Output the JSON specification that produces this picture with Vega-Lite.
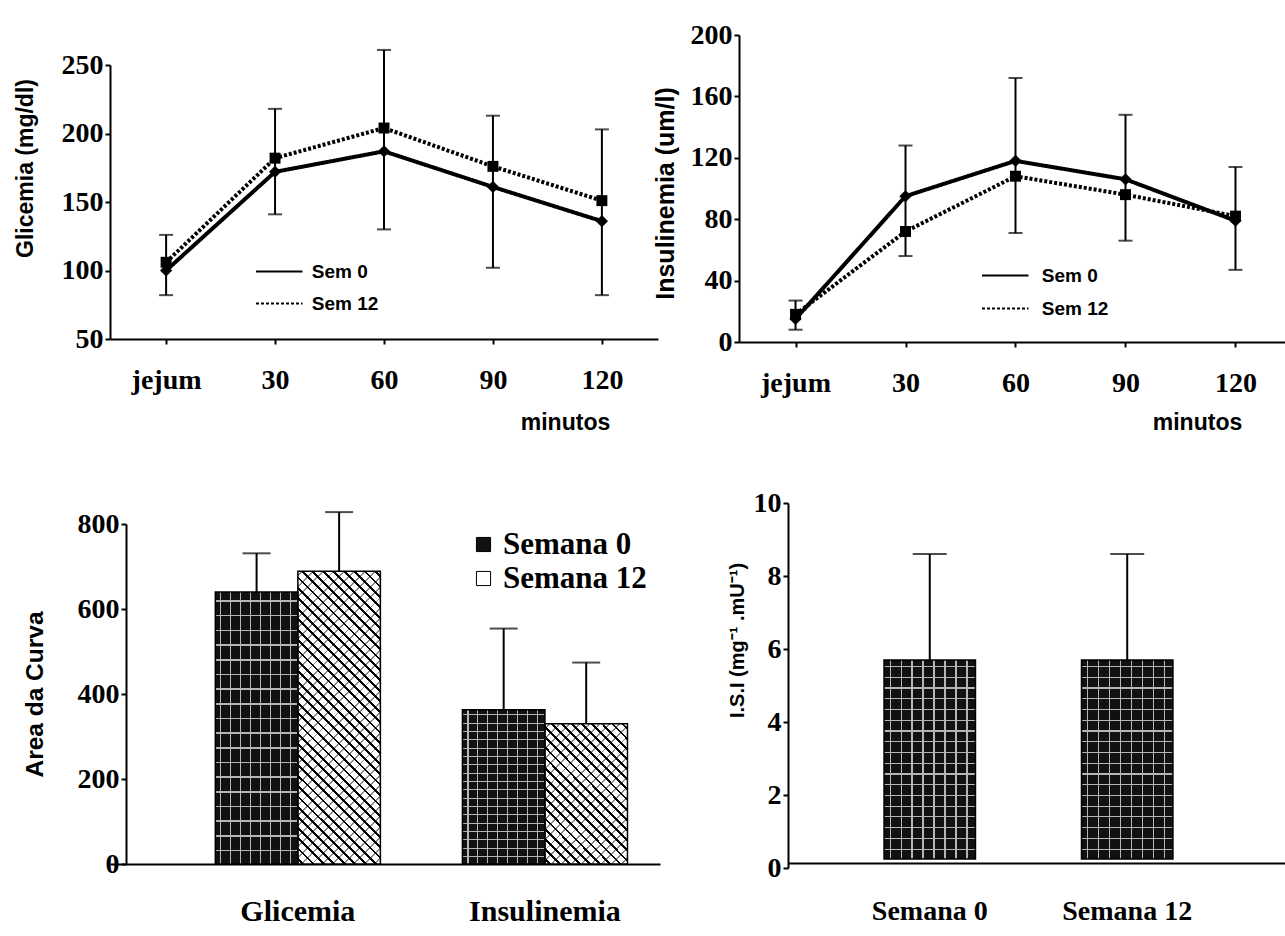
{
  "$schema": "https://vega.github.io/schema/vega-lite/v6.json",
  "background": "white",
  "padding": {"left": 14, "top": 21, "right": 0, "bottom": 0},
  "bounds": "flush",
  "spacing": 468,
  "resolve": {"scale": {"strokeDash": "independent", "fill": "independent"}, "legend": {"strokeDash": "independent", "fill": "independent"}},
  "config": {
    "view": {"stroke": null},
    "axis": {
      "grid": false,
      "domainColor": "black", "domainWidth": 2,
      "tickColor": "black", "tickWidth": 2, "tickSize": 5,
      "labelColor": "black", "labelFont": "Liberation Serif", "labelFontWeight": "bold", "labelFontSize": 28,
      "titleColor": "black", "titleFont": "Liberation Sans", "titleFontWeight": "bold", "titleFontSize": 22,
      "labelOverlap": false
    }
  },
  "datasets": {
    "glic": [
      {"tempo": "jejum", "semana": "Sem 0", "valor": 100},
      {"tempo": "30", "semana": "Sem 0", "valor": 172},
      {"tempo": "60", "semana": "Sem 0", "valor": 187},
      {"tempo": "90", "semana": "Sem 0", "valor": 161},
      {"tempo": "120", "semana": "Sem 0", "valor": 136},
      {"tempo": "jejum", "semana": "Sem 12", "valor": 106},
      {"tempo": "30", "semana": "Sem 12", "valor": 182},
      {"tempo": "60", "semana": "Sem 12", "valor": 204},
      {"tempo": "90", "semana": "Sem 12", "valor": 176},
      {"tempo": "120", "semana": "Sem 12", "valor": 151}
    ],
    "glic_err": [
      {"tempo": "jejum", "inf": 82, "sup": 126},
      {"tempo": "30", "inf": 141, "sup": 218},
      {"tempo": "60", "inf": 130, "sup": 261},
      {"tempo": "90", "inf": 102, "sup": 213},
      {"tempo": "120", "inf": 82, "sup": 203}
    ],
    "ins": [
      {"tempo": "jejum", "semana": "Sem 0", "valor": 15},
      {"tempo": "30", "semana": "Sem 0", "valor": 95},
      {"tempo": "60", "semana": "Sem 0", "valor": 118},
      {"tempo": "90", "semana": "Sem 0", "valor": 106},
      {"tempo": "120", "semana": "Sem 0", "valor": 79},
      {"tempo": "jejum", "semana": "Sem 12", "valor": 18},
      {"tempo": "30", "semana": "Sem 12", "valor": 72},
      {"tempo": "60", "semana": "Sem 12", "valor": 108},
      {"tempo": "90", "semana": "Sem 12", "valor": 96},
      {"tempo": "120", "semana": "Sem 12", "valor": 82}
    ],
    "ins_err": [
      {"tempo": "jejum", "inf": 8, "sup": 27},
      {"tempo": "30", "inf": 56, "sup": 128},
      {"tempo": "60", "inf": 71, "sup": 172},
      {"tempo": "90", "inf": 66, "sup": 148},
      {"tempo": "120", "inf": 47, "sup": 114}
    ],
    "auc": [
      {"variavel": "Glicemia", "semana": "Semana 0", "valor": 640, "sup": 731},
      {"variavel": "Glicemia", "semana": "Semana 12", "valor": 689, "sup": 828},
      {"variavel": "Insulinemia", "semana": "Semana 0", "valor": 363, "sup": 554},
      {"variavel": "Insulinemia", "semana": "Semana 12", "valor": 330, "sup": 474}
    ],
    "isi": [
      {"semana": "Semana 0", "valor": 5.7, "sup": 8.6},
      {"semana": "Semana 12", "valor": 5.7, "sup": 8.6}
    ]
  },
  "vconcat": [
    {
      "bounds": "flush",
      "spacing": 81,
      "resolve": {"scale": {"strokeDash": "independent"}, "legend": {"strokeDash": "independent"}},
      "hconcat": [
        {
          "width": 548,
          "height": 304,
          "encoding": {
            "x": {"field": "tempo", "type": "ordinal", "sort": ["jejum", "30", "60", "90", "120"],
              "scale": {"type": "point", "padding": 0.515},
              "axis": {"title": "minutos", "labelAngle": 0, "labelPadding": 22, "titleX": 455, "titleY": 72, "titleAlign": "center", "titleBaseline": "top", "titleFontSize": 23}}
          },
          "layer": [
            {
              "data": {"name": "glic_err"},
              "mark": {"type": "rule", "color": "black", "strokeWidth": 2},
              "encoding": {
                "y": {"field": "inf", "type": "quantitative", "scale": {"domain": [50, 250], "range": [304, 30], "nice": false, "zero": false},
                  "axis": {"title": "Glicemia (mg/dl)", "values": [50, 100, 150, 200, 250], "labelPadding": 2, "titlePadding": 24, "titleFontSize": 23, "titleY": 133}},
                "y2": {"field": "sup"}
              }
            },
            {
              "data": {"name": "glic_err"},
              "mark": {"type": "tick", "color": "black", "thickness": 2, "size": 14},
              "encoding": {"y": {"field": "inf", "type": "quantitative", "title": "Glicemia (mg/dl)"}}
            },
            {
              "data": {"name": "glic_err"},
              "mark": {"type": "tick", "color": "black", "thickness": 2, "size": 14},
              "encoding": {"y": {"field": "sup", "type": "quantitative", "title": "Glicemia (mg/dl)"}}
            },
            {
              "data": {"name": "glic"},
              "mark": {"type": "line", "color": "black", "strokeWidth": 4},
              "encoding": {
                "y": {"field": "valor", "type": "quantitative", "title": "Glicemia (mg/dl)"},
                "strokeDash": {"field": "semana", "type": "nominal",
                  "scale": {"domain": ["Sem 0", "Sem 12"], "range": [[1, 0], [3, 2]]},
                  "legend": {"title": null, "orient": "none", "legendX": 152.75, "legendY": 220, "symbolType": "M-1.5,0H1.5", "symbolSize": 960, "symbolStrokeWidth": 2, "symbolStrokeColor": "black", "labelFont": "Liberation Sans", "labelFontWeight": "bold", "labelFontSize": 19, "labelColor": "black", "labelOffset": 16, "rowPadding": 5}}
              }
            },
            {
              "data": {"name": "glic"},
              "transform": [{"filter": "datum.semana === 'Sem 0'"}],
              "mark": {"type": "point", "shape": "diamond", "filled": true, "color": "black", "opacity": 1, "size": 150},
              "encoding": {"y": {"field": "valor", "type": "quantitative", "title": "Glicemia (mg/dl)"}}
            },
            {
              "data": {"name": "glic"},
              "transform": [{"filter": "datum.semana === 'Sem 12'"}],
              "mark": {"type": "point", "shape": "square", "filled": true, "color": "black", "opacity": 1, "size": 120},
              "encoding": {"y": {"field": "valor", "type": "quantitative", "title": "Glicemia (mg/dl)"}}
            }
          ]
        },
        {
          "width": 546,
          "height": 307,
          "encoding": {
            "x": {"field": "tempo", "type": "ordinal", "sort": ["jejum", "30", "60", "90", "120"],
              "scale": {"type": "point", "padding": 0.482, "align": 0.533},
              "axis": {"title": "minutos", "labelAngle": 0, "labelPadding": 22, "titleX": 458, "titleY": 69, "titleAlign": "center", "titleBaseline": "top", "titleFontSize": 23}}
          },
          "layer": [
            {
              "data": {"name": "ins_err"},
              "mark": {"type": "rule", "color": "black", "strokeWidth": 2},
              "encoding": {
                "y": {"field": "inf", "type": "quantitative", "scale": {"domain": [0, 200], "nice": false},
                  "axis": {"title": "Insulinemia (um/l)", "values": [0, 40, 80, 120, 160, 200], "labelPadding": 2, "titlePadding": 12, "titleFontSize": 25, "titleY": 158}},
                "y2": {"field": "sup"}
              }
            },
            {
              "data": {"name": "ins_err"},
              "mark": {"type": "tick", "color": "black", "thickness": 2, "size": 14},
              "encoding": {"y": {"field": "inf", "type": "quantitative", "title": "Insulinemia (um/l)"}}
            },
            {
              "data": {"name": "ins_err"},
              "mark": {"type": "tick", "color": "black", "thickness": 2, "size": 14},
              "encoding": {"y": {"field": "sup", "type": "quantitative", "title": "Insulinemia (um/l)"}}
            },
            {
              "data": {"name": "ins"},
              "mark": {"type": "line", "color": "black", "strokeWidth": 4},
              "encoding": {
                "y": {"field": "valor", "type": "quantitative", "title": "Insulinemia (um/l)"},
                "strokeDash": {"field": "semana", "type": "nominal",
                  "scale": {"domain": ["Sem 0", "Sem 12"], "range": [[1, 0], [3, 2]]},
                  "legend": {"title": null, "orient": "none", "legendX": 249.75, "legendY": 224, "symbolType": "M-1.5,0H1.5", "symbolSize": 960, "symbolStrokeWidth": 2, "symbolStrokeColor": "black", "labelFont": "Liberation Sans", "labelFontWeight": "bold", "labelFontSize": 19, "labelColor": "black", "labelOffset": 20, "rowPadding": 6}}
              }
            },
            {
              "data": {"name": "ins"},
              "transform": [{"filter": "datum.semana === 'Sem 0'"}],
              "mark": {"type": "point", "shape": "diamond", "filled": true, "color": "black", "opacity": 1, "size": 150},
              "encoding": {"y": {"field": "valor", "type": "quantitative", "title": "Insulinemia (um/l)"}}
            },
            {
              "data": {"name": "ins"},
              "transform": [{"filter": "datum.semana === 'Sem 12'"}],
              "mark": {"type": "point", "shape": "square", "filled": true, "color": "black", "opacity": 1, "size": 120},
              "encoding": {"y": {"field": "valor", "type": "quantitative", "title": "Insulinemia (um/l)"}}
            }
          ]
        }
      ]
    },
    {
      "bounds": "flush",
      "spacing": 128,
      "resolve": {"scale": {"fill": "independent"}, "legend": {"fill": "independent"}},
      "hconcat": [
        {
          "width": 550,
          "height": 361,
          "data": {"name": "auc"},
          "encoding": {
            "x": {"field": "variavel", "type": "nominal", "sort": ["Glicemia", "Insulinemia"],
              "scale": {"type": "band", "paddingInner": 0.332, "paddingOuter": 0.279, "align": 0.764},
              "axis": {"title": null, "labelAngle": 0, "ticks": false, "labelPadding": 32, "labelFontSize": 30}},
            "xOffset": {"field": "semana", "type": "nominal", "sort": ["Semana 0", "Semana 12"], "scale": {"paddingInner": 0, "paddingOuter": 0}}
          },
          "layer": [
            {
              "mark": {"type": "bar"},
              "encoding": {
                "y": {"field": "valor", "type": "quantitative", "scale": {"domain": [0, 800], "range": [361, 21], "nice": false},
                  "axis": {"title": "Area da Curva", "values": [0, 200, 400, 600, 800], "offset": -16, "labelPadding": 2, "titlePadding": 30, "titleFontSize": 24.5}},
                "fill": {"field": "semana", "type": "nominal", "sort": ["Semana 0", "Semana 12"],
                  "scale": {"domain": ["Semana 0", "Semana 12"], "range": ["#111111", "#ffffff"]},
                  "legend": {"title": null, "orient": "none", "legendX": 358, "legendY": 26, "symbolType": "square", "symbolSize": 200, "symbolStrokeColor": "black", "symbolStrokeWidth": 1, "labelFont": "Liberation Serif", "labelFontWeight": "bold", "labelFontSize": 31, "labelColor": "black", "labelOffset": 4, "rowPadding": 2}}
              }
            },
            {
              "transform": [{"filter": "datum.semana === 'Semana 0'"}],
              "mark": {"type": "bar", "fill": {"gradient": "linear", "x1": 0, "y1": 0, "x2": 1, "y2": 0, "stops": [
                {"offset": 0.06, "color": "rgba(0,0,0,0)"}, {"offset": 0.06, "color": "#b5b5b5"}, {"offset": 0.074, "color": "#b5b5b5"}, {"offset": 0.074, "color": "rgba(0,0,0,0)"},
                {"offset": 0.18, "color": "rgba(0,0,0,0)"}, {"offset": 0.18, "color": "#b5b5b5"}, {"offset": 0.194, "color": "#b5b5b5"}, {"offset": 0.194, "color": "rgba(0,0,0,0)"},
                {"offset": 0.30, "color": "rgba(0,0,0,0)"}, {"offset": 0.30, "color": "#b5b5b5"}, {"offset": 0.314, "color": "#b5b5b5"}, {"offset": 0.314, "color": "rgba(0,0,0,0)"},
                {"offset": 0.42, "color": "rgba(0,0,0,0)"}, {"offset": 0.42, "color": "#b5b5b5"}, {"offset": 0.434, "color": "#b5b5b5"}, {"offset": 0.434, "color": "rgba(0,0,0,0)"},
                {"offset": 0.54, "color": "rgba(0,0,0,0)"}, {"offset": 0.54, "color": "#b5b5b5"}, {"offset": 0.554, "color": "#b5b5b5"}, {"offset": 0.554, "color": "rgba(0,0,0,0)"},
                {"offset": 0.66, "color": "rgba(0,0,0,0)"}, {"offset": 0.66, "color": "#b5b5b5"}, {"offset": 0.674, "color": "#b5b5b5"}, {"offset": 0.674, "color": "rgba(0,0,0,0)"},
                {"offset": 0.78, "color": "rgba(0,0,0,0)"}, {"offset": 0.78, "color": "#b5b5b5"}, {"offset": 0.794, "color": "#b5b5b5"}, {"offset": 0.794, "color": "rgba(0,0,0,0)"},
                {"offset": 0.90, "color": "rgba(0,0,0,0)"}, {"offset": 0.90, "color": "#b5b5b5"}, {"offset": 0.914, "color": "#b5b5b5"}, {"offset": 0.914, "color": "rgba(0,0,0,0)"}
              ]}},
              "encoding": {"y": {"field": "valor", "type": "quantitative", "title": "Area da Curva"}}
            },
            {
              "transform": [{"filter": "datum.semana === 'Semana 0'"}],
              "mark": {"type": "bar", "fill": {"gradient": "linear", "x1": 0, "y1": 0, "x2": 0, "y2": 1, "stops": [
                {"offset": 0.030, "color": "rgba(0,0,0,0)"}, {"offset": 0.030, "color": "#b5b5b5"}, {"offset": 0.036, "color": "#b5b5b5"}, {"offset": 0.036, "color": "rgba(0,0,0,0)"},
                {"offset": 0.084, "color": "rgba(0,0,0,0)"}, {"offset": 0.084, "color": "#b5b5b5"}, {"offset": 0.090, "color": "#b5b5b5"}, {"offset": 0.090, "color": "rgba(0,0,0,0)"},
                {"offset": 0.138, "color": "rgba(0,0,0,0)"}, {"offset": 0.138, "color": "#b5b5b5"}, {"offset": 0.144, "color": "#b5b5b5"}, {"offset": 0.144, "color": "rgba(0,0,0,0)"},
                {"offset": 0.192, "color": "rgba(0,0,0,0)"}, {"offset": 0.192, "color": "#b5b5b5"}, {"offset": 0.198, "color": "#b5b5b5"}, {"offset": 0.198, "color": "rgba(0,0,0,0)"},
                {"offset": 0.246, "color": "rgba(0,0,0,0)"}, {"offset": 0.246, "color": "#b5b5b5"}, {"offset": 0.252, "color": "#b5b5b5"}, {"offset": 0.252, "color": "rgba(0,0,0,0)"},
                {"offset": 0.300, "color": "rgba(0,0,0,0)"}, {"offset": 0.300, "color": "#b5b5b5"}, {"offset": 0.306, "color": "#b5b5b5"}, {"offset": 0.306, "color": "rgba(0,0,0,0)"},
                {"offset": 0.354, "color": "rgba(0,0,0,0)"}, {"offset": 0.354, "color": "#b5b5b5"}, {"offset": 0.360, "color": "#b5b5b5"}, {"offset": 0.360, "color": "rgba(0,0,0,0)"},
                {"offset": 0.408, "color": "rgba(0,0,0,0)"}, {"offset": 0.408, "color": "#b5b5b5"}, {"offset": 0.414, "color": "#b5b5b5"}, {"offset": 0.414, "color": "rgba(0,0,0,0)"},
                {"offset": 0.462, "color": "rgba(0,0,0,0)"}, {"offset": 0.462, "color": "#b5b5b5"}, {"offset": 0.468, "color": "#b5b5b5"}, {"offset": 0.468, "color": "rgba(0,0,0,0)"},
                {"offset": 0.516, "color": "rgba(0,0,0,0)"}, {"offset": 0.516, "color": "#b5b5b5"}, {"offset": 0.522, "color": "#b5b5b5"}, {"offset": 0.522, "color": "rgba(0,0,0,0)"},
                {"offset": 0.570, "color": "rgba(0,0,0,0)"}, {"offset": 0.570, "color": "#b5b5b5"}, {"offset": 0.576, "color": "#b5b5b5"}, {"offset": 0.576, "color": "rgba(0,0,0,0)"},
                {"offset": 0.624, "color": "rgba(0,0,0,0)"}, {"offset": 0.624, "color": "#b5b5b5"}, {"offset": 0.630, "color": "#b5b5b5"}, {"offset": 0.630, "color": "rgba(0,0,0,0)"},
                {"offset": 0.678, "color": "rgba(0,0,0,0)"}, {"offset": 0.678, "color": "#b5b5b5"}, {"offset": 0.684, "color": "#b5b5b5"}, {"offset": 0.684, "color": "rgba(0,0,0,0)"},
                {"offset": 0.732, "color": "rgba(0,0,0,0)"}, {"offset": 0.732, "color": "#b5b5b5"}, {"offset": 0.738, "color": "#b5b5b5"}, {"offset": 0.738, "color": "rgba(0,0,0,0)"},
                {"offset": 0.786, "color": "rgba(0,0,0,0)"}, {"offset": 0.786, "color": "#b5b5b5"}, {"offset": 0.792, "color": "#b5b5b5"}, {"offset": 0.792, "color": "rgba(0,0,0,0)"},
                {"offset": 0.840, "color": "rgba(0,0,0,0)"}, {"offset": 0.840, "color": "#b5b5b5"}, {"offset": 0.846, "color": "#b5b5b5"}, {"offset": 0.846, "color": "rgba(0,0,0,0)"},
                {"offset": 0.894, "color": "rgba(0,0,0,0)"}, {"offset": 0.894, "color": "#b5b5b5"}, {"offset": 0.900, "color": "#b5b5b5"}, {"offset": 0.900, "color": "rgba(0,0,0,0)"},
                {"offset": 0.948, "color": "rgba(0,0,0,0)"}, {"offset": 0.948, "color": "#b5b5b5"}, {"offset": 0.954, "color": "#b5b5b5"}, {"offset": 0.954, "color": "rgba(0,0,0,0)"}
              ]}},
              "encoding": {"y": {"field": "valor", "type": "quantitative", "title": "Area da Curva"}}
            },
            {
              "transform": [{"filter": "datum.semana === 'Semana 12' && datum.variavel === 'Glicemia'"}],
              "mark": {"type": "bar", "fill": {"gradient": "linear", "x1": 0, "y1": 0, "x2": 0.3344, "y2": 1.1874, "stops": [
                {"offset": 0.0100, "color": "rgba(0,0,0,0)"}, {"offset": 0.0100, "color": "#888"}, {"offset": 0.0150, "color": "#888"}, {"offset": 0.0150, "color": "rgba(0,0,0,0)"},
                {"offset": 0.0378, "color": "rgba(0,0,0,0)"}, {"offset": 0.0378, "color": "#888"}, {"offset": 0.0428, "color": "#888"}, {"offset": 0.0428, "color": "rgba(0,0,0,0)"},
                {"offset": 0.0656, "color": "rgba(0,0,0,0)"}, {"offset": 0.0656, "color": "#888"}, {"offset": 0.0706, "color": "#888"}, {"offset": 0.0706, "color": "rgba(0,0,0,0)"},
                {"offset": 0.0933, "color": "rgba(0,0,0,0)"}, {"offset": 0.0933, "color": "#888"}, {"offset": 0.0983, "color": "#888"}, {"offset": 0.0983, "color": "rgba(0,0,0,0)"},
                {"offset": 0.1211, "color": "rgba(0,0,0,0)"}, {"offset": 0.1211, "color": "#888"}, {"offset": 0.1261, "color": "#888"}, {"offset": 0.1261, "color": "rgba(0,0,0,0)"},
                {"offset": 0.1489, "color": "rgba(0,0,0,0)"}, {"offset": 0.1489, "color": "#888"}, {"offset": 0.1539, "color": "#888"}, {"offset": 0.1539, "color": "rgba(0,0,0,0)"},
                {"offset": 0.1767, "color": "rgba(0,0,0,0)"}, {"offset": 0.1767, "color": "#888"}, {"offset": 0.1817, "color": "#888"}, {"offset": 0.1817, "color": "rgba(0,0,0,0)"},
                {"offset": 0.2044, "color": "rgba(0,0,0,0)"}, {"offset": 0.2044, "color": "#888"}, {"offset": 0.2094, "color": "#888"}, {"offset": 0.2094, "color": "rgba(0,0,0,0)"},
                {"offset": 0.2322, "color": "rgba(0,0,0,0)"}, {"offset": 0.2322, "color": "#888"}, {"offset": 0.2372, "color": "#888"}, {"offset": 0.2372, "color": "rgba(0,0,0,0)"},
                {"offset": 0.2600, "color": "rgba(0,0,0,0)"}, {"offset": 0.2600, "color": "#888"}, {"offset": 0.2650, "color": "#888"}, {"offset": 0.2650, "color": "rgba(0,0,0,0)"},
                {"offset": 0.2878, "color": "rgba(0,0,0,0)"}, {"offset": 0.2878, "color": "#888"}, {"offset": 0.2928, "color": "#888"}, {"offset": 0.2928, "color": "rgba(0,0,0,0)"},
                {"offset": 0.3156, "color": "rgba(0,0,0,0)"}, {"offset": 0.3156, "color": "#888"}, {"offset": 0.3206, "color": "#888"}, {"offset": 0.3206, "color": "rgba(0,0,0,0)"},
                {"offset": 0.3433, "color": "rgba(0,0,0,0)"}, {"offset": 0.3433, "color": "#888"}, {"offset": 0.3483, "color": "#888"}, {"offset": 0.3483, "color": "rgba(0,0,0,0)"},
                {"offset": 0.3711, "color": "rgba(0,0,0,0)"}, {"offset": 0.3711, "color": "#888"}, {"offset": 0.3761, "color": "#888"}, {"offset": 0.3761, "color": "rgba(0,0,0,0)"},
                {"offset": 0.3989, "color": "rgba(0,0,0,0)"}, {"offset": 0.3989, "color": "#888"}, {"offset": 0.4039, "color": "#888"}, {"offset": 0.4039, "color": "rgba(0,0,0,0)"},
                {"offset": 0.4267, "color": "rgba(0,0,0,0)"}, {"offset": 0.4267, "color": "#888"}, {"offset": 0.4317, "color": "#888"}, {"offset": 0.4317, "color": "rgba(0,0,0,0)"},
                {"offset": 0.4544, "color": "rgba(0,0,0,0)"}, {"offset": 0.4544, "color": "#888"}, {"offset": 0.4594, "color": "#888"}, {"offset": 0.4594, "color": "rgba(0,0,0,0)"},
                {"offset": 0.4822, "color": "rgba(0,0,0,0)"}, {"offset": 0.4822, "color": "#888"}, {"offset": 0.4872, "color": "#888"}, {"offset": 0.4872, "color": "rgba(0,0,0,0)"},
                {"offset": 0.5100, "color": "rgba(0,0,0,0)"}, {"offset": 0.5100, "color": "#888"}, {"offset": 0.5150, "color": "#888"}, {"offset": 0.5150, "color": "rgba(0,0,0,0)"},
                {"offset": 0.5378, "color": "rgba(0,0,0,0)"}, {"offset": 0.5378, "color": "#888"}, {"offset": 0.5428, "color": "#888"}, {"offset": 0.5428, "color": "rgba(0,0,0,0)"},
                {"offset": 0.5656, "color": "rgba(0,0,0,0)"}, {"offset": 0.5656, "color": "#888"}, {"offset": 0.5706, "color": "#888"}, {"offset": 0.5706, "color": "rgba(0,0,0,0)"},
                {"offset": 0.5933, "color": "rgba(0,0,0,0)"}, {"offset": 0.5933, "color": "#888"}, {"offset": 0.5983, "color": "#888"}, {"offset": 0.5983, "color": "rgba(0,0,0,0)"},
                {"offset": 0.6211, "color": "rgba(0,0,0,0)"}, {"offset": 0.6211, "color": "#888"}, {"offset": 0.6261, "color": "#888"}, {"offset": 0.6261, "color": "rgba(0,0,0,0)"},
                {"offset": 0.6489, "color": "rgba(0,0,0,0)"}, {"offset": 0.6489, "color": "#888"}, {"offset": 0.6539, "color": "#888"}, {"offset": 0.6539, "color": "rgba(0,0,0,0)"},
                {"offset": 0.6767, "color": "rgba(0,0,0,0)"}, {"offset": 0.6767, "color": "#888"}, {"offset": 0.6817, "color": "#888"}, {"offset": 0.6817, "color": "rgba(0,0,0,0)"},
                {"offset": 0.7044, "color": "rgba(0,0,0,0)"}, {"offset": 0.7044, "color": "#888"}, {"offset": 0.7094, "color": "#888"}, {"offset": 0.7094, "color": "rgba(0,0,0,0)"},
                {"offset": 0.7322, "color": "rgba(0,0,0,0)"}, {"offset": 0.7322, "color": "#888"}, {"offset": 0.7372, "color": "#888"}, {"offset": 0.7372, "color": "rgba(0,0,0,0)"},
                {"offset": 0.7600, "color": "rgba(0,0,0,0)"}, {"offset": 0.7600, "color": "#888"}, {"offset": 0.7650, "color": "#888"}, {"offset": 0.7650, "color": "rgba(0,0,0,0)"},
                {"offset": 0.7878, "color": "rgba(0,0,0,0)"}, {"offset": 0.7878, "color": "#888"}, {"offset": 0.7928, "color": "#888"}, {"offset": 0.7928, "color": "rgba(0,0,0,0)"},
                {"offset": 0.8156, "color": "rgba(0,0,0,0)"}, {"offset": 0.8156, "color": "#888"}, {"offset": 0.8206, "color": "#888"}, {"offset": 0.8206, "color": "rgba(0,0,0,0)"},
                {"offset": 0.8433, "color": "rgba(0,0,0,0)"}, {"offset": 0.8433, "color": "#888"}, {"offset": 0.8483, "color": "#888"}, {"offset": 0.8483, "color": "rgba(0,0,0,0)"},
                {"offset": 0.8711, "color": "rgba(0,0,0,0)"}, {"offset": 0.8711, "color": "#888"}, {"offset": 0.8761, "color": "#888"}, {"offset": 0.8761, "color": "rgba(0,0,0,0)"},
                {"offset": 0.8989, "color": "rgba(0,0,0,0)"}, {"offset": 0.8989, "color": "#888"}, {"offset": 0.9039, "color": "#888"}, {"offset": 0.9039, "color": "rgba(0,0,0,0)"},
                {"offset": 0.9267, "color": "rgba(0,0,0,0)"}, {"offset": 0.9267, "color": "#888"}, {"offset": 0.9317, "color": "#888"}, {"offset": 0.9317, "color": "rgba(0,0,0,0)"},
                {"offset": 0.9544, "color": "rgba(0,0,0,0)"}, {"offset": 0.9544, "color": "#888"}, {"offset": 0.9594, "color": "#888"}, {"offset": 0.9594, "color": "rgba(0,0,0,0)"},
                {"offset": 0.9822, "color": "rgba(0,0,0,0)"}, {"offset": 0.9822, "color": "#888"}, {"offset": 0.9872, "color": "#888"}, {"offset": 0.9872, "color": "rgba(0,0,0,0)"}
              ]}},
              "encoding": {"y": {"field": "valor", "type": "quantitative", "title": "Area da Curva"}}
            },
            {
              "transform": [{"filter": "datum.semana === 'Semana 12' && datum.variavel === 'Glicemia'"}],
              "mark": {"type": "bar", "fill": {"gradient": "linear", "x1": 0, "y1": 1, "x2": 0.3344, "y2": -0.1874, "stops": [
                {"offset": 0.0100, "color": "rgba(0,0,0,0)"}, {"offset": 0.0100, "color": "#000"}, {"offset": 0.0175, "color": "#000"}, {"offset": 0.0175, "color": "rgba(0,0,0,0)"},
                {"offset": 0.0378, "color": "rgba(0,0,0,0)"}, {"offset": 0.0378, "color": "#000"}, {"offset": 0.0453, "color": "#000"}, {"offset": 0.0453, "color": "rgba(0,0,0,0)"},
                {"offset": 0.0656, "color": "rgba(0,0,0,0)"}, {"offset": 0.0656, "color": "#000"}, {"offset": 0.0731, "color": "#000"}, {"offset": 0.0731, "color": "rgba(0,0,0,0)"},
                {"offset": 0.0933, "color": "rgba(0,0,0,0)"}, {"offset": 0.0933, "color": "#000"}, {"offset": 0.1008, "color": "#000"}, {"offset": 0.1008, "color": "rgba(0,0,0,0)"},
                {"offset": 0.1211, "color": "rgba(0,0,0,0)"}, {"offset": 0.1211, "color": "#000"}, {"offset": 0.1286, "color": "#000"}, {"offset": 0.1286, "color": "rgba(0,0,0,0)"},
                {"offset": 0.1489, "color": "rgba(0,0,0,0)"}, {"offset": 0.1489, "color": "#000"}, {"offset": 0.1564, "color": "#000"}, {"offset": 0.1564, "color": "rgba(0,0,0,0)"},
                {"offset": 0.1767, "color": "rgba(0,0,0,0)"}, {"offset": 0.1767, "color": "#000"}, {"offset": 0.1842, "color": "#000"}, {"offset": 0.1842, "color": "rgba(0,0,0,0)"},
                {"offset": 0.2044, "color": "rgba(0,0,0,0)"}, {"offset": 0.2044, "color": "#000"}, {"offset": 0.2119, "color": "#000"}, {"offset": 0.2119, "color": "rgba(0,0,0,0)"},
                {"offset": 0.2322, "color": "rgba(0,0,0,0)"}, {"offset": 0.2322, "color": "#000"}, {"offset": 0.2397, "color": "#000"}, {"offset": 0.2397, "color": "rgba(0,0,0,0)"},
                {"offset": 0.2600, "color": "rgba(0,0,0,0)"}, {"offset": 0.2600, "color": "#000"}, {"offset": 0.2675, "color": "#000"}, {"offset": 0.2675, "color": "rgba(0,0,0,0)"},
                {"offset": 0.2878, "color": "rgba(0,0,0,0)"}, {"offset": 0.2878, "color": "#000"}, {"offset": 0.2953, "color": "#000"}, {"offset": 0.2953, "color": "rgba(0,0,0,0)"},
                {"offset": 0.3156, "color": "rgba(0,0,0,0)"}, {"offset": 0.3156, "color": "#000"}, {"offset": 0.3231, "color": "#000"}, {"offset": 0.3231, "color": "rgba(0,0,0,0)"},
                {"offset": 0.3433, "color": "rgba(0,0,0,0)"}, {"offset": 0.3433, "color": "#000"}, {"offset": 0.3508, "color": "#000"}, {"offset": 0.3508, "color": "rgba(0,0,0,0)"},
                {"offset": 0.3711, "color": "rgba(0,0,0,0)"}, {"offset": 0.3711, "color": "#000"}, {"offset": 0.3786, "color": "#000"}, {"offset": 0.3786, "color": "rgba(0,0,0,0)"},
                {"offset": 0.3989, "color": "rgba(0,0,0,0)"}, {"offset": 0.3989, "color": "#000"}, {"offset": 0.4064, "color": "#000"}, {"offset": 0.4064, "color": "rgba(0,0,0,0)"},
                {"offset": 0.4267, "color": "rgba(0,0,0,0)"}, {"offset": 0.4267, "color": "#000"}, {"offset": 0.4342, "color": "#000"}, {"offset": 0.4342, "color": "rgba(0,0,0,0)"},
                {"offset": 0.4544, "color": "rgba(0,0,0,0)"}, {"offset": 0.4544, "color": "#000"}, {"offset": 0.4619, "color": "#000"}, {"offset": 0.4619, "color": "rgba(0,0,0,0)"},
                {"offset": 0.4822, "color": "rgba(0,0,0,0)"}, {"offset": 0.4822, "color": "#000"}, {"offset": 0.4897, "color": "#000"}, {"offset": 0.4897, "color": "rgba(0,0,0,0)"},
                {"offset": 0.5100, "color": "rgba(0,0,0,0)"}, {"offset": 0.5100, "color": "#000"}, {"offset": 0.5175, "color": "#000"}, {"offset": 0.5175, "color": "rgba(0,0,0,0)"},
                {"offset": 0.5378, "color": "rgba(0,0,0,0)"}, {"offset": 0.5378, "color": "#000"}, {"offset": 0.5453, "color": "#000"}, {"offset": 0.5453, "color": "rgba(0,0,0,0)"},
                {"offset": 0.5656, "color": "rgba(0,0,0,0)"}, {"offset": 0.5656, "color": "#000"}, {"offset": 0.5731, "color": "#000"}, {"offset": 0.5731, "color": "rgba(0,0,0,0)"},
                {"offset": 0.5933, "color": "rgba(0,0,0,0)"}, {"offset": 0.5933, "color": "#000"}, {"offset": 0.6008, "color": "#000"}, {"offset": 0.6008, "color": "rgba(0,0,0,0)"},
                {"offset": 0.6211, "color": "rgba(0,0,0,0)"}, {"offset": 0.6211, "color": "#000"}, {"offset": 0.6286, "color": "#000"}, {"offset": 0.6286, "color": "rgba(0,0,0,0)"},
                {"offset": 0.6489, "color": "rgba(0,0,0,0)"}, {"offset": 0.6489, "color": "#000"}, {"offset": 0.6564, "color": "#000"}, {"offset": 0.6564, "color": "rgba(0,0,0,0)"},
                {"offset": 0.6767, "color": "rgba(0,0,0,0)"}, {"offset": 0.6767, "color": "#000"}, {"offset": 0.6842, "color": "#000"}, {"offset": 0.6842, "color": "rgba(0,0,0,0)"},
                {"offset": 0.7044, "color": "rgba(0,0,0,0)"}, {"offset": 0.7044, "color": "#000"}, {"offset": 0.7119, "color": "#000"}, {"offset": 0.7119, "color": "rgba(0,0,0,0)"},
                {"offset": 0.7322, "color": "rgba(0,0,0,0)"}, {"offset": 0.7322, "color": "#000"}, {"offset": 0.7397, "color": "#000"}, {"offset": 0.7397, "color": "rgba(0,0,0,0)"},
                {"offset": 0.7600, "color": "rgba(0,0,0,0)"}, {"offset": 0.7600, "color": "#000"}, {"offset": 0.7675, "color": "#000"}, {"offset": 0.7675, "color": "rgba(0,0,0,0)"},
                {"offset": 0.7878, "color": "rgba(0,0,0,0)"}, {"offset": 0.7878, "color": "#000"}, {"offset": 0.7953, "color": "#000"}, {"offset": 0.7953, "color": "rgba(0,0,0,0)"},
                {"offset": 0.8156, "color": "rgba(0,0,0,0)"}, {"offset": 0.8156, "color": "#000"}, {"offset": 0.8231, "color": "#000"}, {"offset": 0.8231, "color": "rgba(0,0,0,0)"},
                {"offset": 0.8433, "color": "rgba(0,0,0,0)"}, {"offset": 0.8433, "color": "#000"}, {"offset": 0.8508, "color": "#000"}, {"offset": 0.8508, "color": "rgba(0,0,0,0)"},
                {"offset": 0.8711, "color": "rgba(0,0,0,0)"}, {"offset": 0.8711, "color": "#000"}, {"offset": 0.8786, "color": "#000"}, {"offset": 0.8786, "color": "rgba(0,0,0,0)"},
                {"offset": 0.8989, "color": "rgba(0,0,0,0)"}, {"offset": 0.8989, "color": "#000"}, {"offset": 0.9064, "color": "#000"}, {"offset": 0.9064, "color": "rgba(0,0,0,0)"},
                {"offset": 0.9267, "color": "rgba(0,0,0,0)"}, {"offset": 0.9267, "color": "#000"}, {"offset": 0.9342, "color": "#000"}, {"offset": 0.9342, "color": "rgba(0,0,0,0)"},
                {"offset": 0.9544, "color": "rgba(0,0,0,0)"}, {"offset": 0.9544, "color": "#000"}, {"offset": 0.9619, "color": "#000"}, {"offset": 0.9619, "color": "rgba(0,0,0,0)"},
                {"offset": 0.9822, "color": "rgba(0,0,0,0)"}, {"offset": 0.9822, "color": "#000"}, {"offset": 0.9897, "color": "#000"}, {"offset": 0.9897, "color": "rgba(0,0,0,0)"}
              ]}},
              "encoding": {"y": {"field": "valor", "type": "quantitative", "title": "Area da Curva"}}
            },
            {
              "transform": [{"filter": "datum.semana === 'Semana 12' && datum.variavel === 'Insulinemia'"}],
              "mark": {"type": "bar", "fill": {"gradient": "linear", "x1": 0, "y1": 0, "x2": 0.6988, "y2": 1.1786, "stops": [
                {"offset": 0.0160, "color": "rgba(0,0,0,0)"}, {"offset": 0.0160, "color": "#888"}, {"offset": 0.0244, "color": "#888"}, {"offset": 0.0244, "color": "rgba(0,0,0,0)"},
                {"offset": 0.0615, "color": "rgba(0,0,0,0)"}, {"offset": 0.0615, "color": "#888"}, {"offset": 0.0699, "color": "#888"}, {"offset": 0.0699, "color": "rgba(0,0,0,0)"},
                {"offset": 0.1069, "color": "rgba(0,0,0,0)"}, {"offset": 0.1069, "color": "#888"}, {"offset": 0.1153, "color": "#888"}, {"offset": 0.1153, "color": "rgba(0,0,0,0)"},
                {"offset": 0.1524, "color": "rgba(0,0,0,0)"}, {"offset": 0.1524, "color": "#888"}, {"offset": 0.1608, "color": "#888"}, {"offset": 0.1608, "color": "rgba(0,0,0,0)"},
                {"offset": 0.1978, "color": "rgba(0,0,0,0)"}, {"offset": 0.1978, "color": "#888"}, {"offset": 0.2062, "color": "#888"}, {"offset": 0.2062, "color": "rgba(0,0,0,0)"},
                {"offset": 0.2433, "color": "rgba(0,0,0,0)"}, {"offset": 0.2433, "color": "#888"}, {"offset": 0.2517, "color": "#888"}, {"offset": 0.2517, "color": "rgba(0,0,0,0)"},
                {"offset": 0.2887, "color": "rgba(0,0,0,0)"}, {"offset": 0.2887, "color": "#888"}, {"offset": 0.2971, "color": "#888"}, {"offset": 0.2971, "color": "rgba(0,0,0,0)"},
                {"offset": 0.3342, "color": "rgba(0,0,0,0)"}, {"offset": 0.3342, "color": "#888"}, {"offset": 0.3426, "color": "#888"}, {"offset": 0.3426, "color": "rgba(0,0,0,0)"},
                {"offset": 0.3796, "color": "rgba(0,0,0,0)"}, {"offset": 0.3796, "color": "#888"}, {"offset": 0.3880, "color": "#888"}, {"offset": 0.3880, "color": "rgba(0,0,0,0)"},
                {"offset": 0.4251, "color": "rgba(0,0,0,0)"}, {"offset": 0.4251, "color": "#888"}, {"offset": 0.4335, "color": "#888"}, {"offset": 0.4335, "color": "rgba(0,0,0,0)"},
                {"offset": 0.4705, "color": "rgba(0,0,0,0)"}, {"offset": 0.4705, "color": "#888"}, {"offset": 0.4789, "color": "#888"}, {"offset": 0.4789, "color": "rgba(0,0,0,0)"},
                {"offset": 0.5160, "color": "rgba(0,0,0,0)"}, {"offset": 0.5160, "color": "#888"}, {"offset": 0.5244, "color": "#888"}, {"offset": 0.5244, "color": "rgba(0,0,0,0)"},
                {"offset": 0.5614, "color": "rgba(0,0,0,0)"}, {"offset": 0.5614, "color": "#888"}, {"offset": 0.5698, "color": "#888"}, {"offset": 0.5698, "color": "rgba(0,0,0,0)"},
                {"offset": 0.6069, "color": "rgba(0,0,0,0)"}, {"offset": 0.6069, "color": "#888"}, {"offset": 0.6153, "color": "#888"}, {"offset": 0.6153, "color": "rgba(0,0,0,0)"},
                {"offset": 0.6524, "color": "rgba(0,0,0,0)"}, {"offset": 0.6524, "color": "#888"}, {"offset": 0.6608, "color": "#888"}, {"offset": 0.6608, "color": "rgba(0,0,0,0)"},
                {"offset": 0.6978, "color": "rgba(0,0,0,0)"}, {"offset": 0.6978, "color": "#888"}, {"offset": 0.7062, "color": "#888"}, {"offset": 0.7062, "color": "rgba(0,0,0,0)"},
                {"offset": 0.7433, "color": "rgba(0,0,0,0)"}, {"offset": 0.7433, "color": "#888"}, {"offset": 0.7517, "color": "#888"}, {"offset": 0.7517, "color": "rgba(0,0,0,0)"},
                {"offset": 0.7887, "color": "rgba(0,0,0,0)"}, {"offset": 0.7887, "color": "#888"}, {"offset": 0.7971, "color": "#888"}, {"offset": 0.7971, "color": "rgba(0,0,0,0)"},
                {"offset": 0.8342, "color": "rgba(0,0,0,0)"}, {"offset": 0.8342, "color": "#888"}, {"offset": 0.8426, "color": "#888"}, {"offset": 0.8426, "color": "rgba(0,0,0,0)"},
                {"offset": 0.8796, "color": "rgba(0,0,0,0)"}, {"offset": 0.8796, "color": "#888"}, {"offset": 0.8880, "color": "#888"}, {"offset": 0.8880, "color": "rgba(0,0,0,0)"},
                {"offset": 0.9251, "color": "rgba(0,0,0,0)"}, {"offset": 0.9251, "color": "#888"}, {"offset": 0.9335, "color": "#888"}, {"offset": 0.9335, "color": "rgba(0,0,0,0)"},
                {"offset": 0.9705, "color": "rgba(0,0,0,0)"}, {"offset": 0.9705, "color": "#888"}, {"offset": 0.9789, "color": "#888"}, {"offset": 0.9789, "color": "rgba(0,0,0,0)"}
              ]}},
              "encoding": {"y": {"field": "valor", "type": "quantitative", "title": "Area da Curva"}}
            },
            {
              "transform": [{"filter": "datum.semana === 'Semana 12' && datum.variavel === 'Insulinemia'"}],
              "mark": {"type": "bar", "fill": {"gradient": "linear", "x1": 0, "y1": 1, "x2": 0.6988, "y2": -0.1786, "stops": [
                {"offset": 0.0160, "color": "rgba(0,0,0,0)"}, {"offset": 0.0160, "color": "#000"}, {"offset": 0.0286, "color": "#000"}, {"offset": 0.0286, "color": "rgba(0,0,0,0)"},
                {"offset": 0.0615, "color": "rgba(0,0,0,0)"}, {"offset": 0.0615, "color": "#000"}, {"offset": 0.0741, "color": "#000"}, {"offset": 0.0741, "color": "rgba(0,0,0,0)"},
                {"offset": 0.1069, "color": "rgba(0,0,0,0)"}, {"offset": 0.1069, "color": "#000"}, {"offset": 0.1195, "color": "#000"}, {"offset": 0.1195, "color": "rgba(0,0,0,0)"},
                {"offset": 0.1524, "color": "rgba(0,0,0,0)"}, {"offset": 0.1524, "color": "#000"}, {"offset": 0.1650, "color": "#000"}, {"offset": 0.1650, "color": "rgba(0,0,0,0)"},
                {"offset": 0.1978, "color": "rgba(0,0,0,0)"}, {"offset": 0.1978, "color": "#000"}, {"offset": 0.2104, "color": "#000"}, {"offset": 0.2104, "color": "rgba(0,0,0,0)"},
                {"offset": 0.2433, "color": "rgba(0,0,0,0)"}, {"offset": 0.2433, "color": "#000"}, {"offset": 0.2559, "color": "#000"}, {"offset": 0.2559, "color": "rgba(0,0,0,0)"},
                {"offset": 0.2887, "color": "rgba(0,0,0,0)"}, {"offset": 0.2887, "color": "#000"}, {"offset": 0.3013, "color": "#000"}, {"offset": 0.3013, "color": "rgba(0,0,0,0)"},
                {"offset": 0.3342, "color": "rgba(0,0,0,0)"}, {"offset": 0.3342, "color": "#000"}, {"offset": 0.3468, "color": "#000"}, {"offset": 0.3468, "color": "rgba(0,0,0,0)"},
                {"offset": 0.3796, "color": "rgba(0,0,0,0)"}, {"offset": 0.3796, "color": "#000"}, {"offset": 0.3922, "color": "#000"}, {"offset": 0.3922, "color": "rgba(0,0,0,0)"},
                {"offset": 0.4251, "color": "rgba(0,0,0,0)"}, {"offset": 0.4251, "color": "#000"}, {"offset": 0.4377, "color": "#000"}, {"offset": 0.4377, "color": "rgba(0,0,0,0)"},
                {"offset": 0.4705, "color": "rgba(0,0,0,0)"}, {"offset": 0.4705, "color": "#000"}, {"offset": 0.4831, "color": "#000"}, {"offset": 0.4831, "color": "rgba(0,0,0,0)"},
                {"offset": 0.5160, "color": "rgba(0,0,0,0)"}, {"offset": 0.5160, "color": "#000"}, {"offset": 0.5286, "color": "#000"}, {"offset": 0.5286, "color": "rgba(0,0,0,0)"},
                {"offset": 0.5614, "color": "rgba(0,0,0,0)"}, {"offset": 0.5614, "color": "#000"}, {"offset": 0.5740, "color": "#000"}, {"offset": 0.5740, "color": "rgba(0,0,0,0)"},
                {"offset": 0.6069, "color": "rgba(0,0,0,0)"}, {"offset": 0.6069, "color": "#000"}, {"offset": 0.6195, "color": "#000"}, {"offset": 0.6195, "color": "rgba(0,0,0,0)"},
                {"offset": 0.6524, "color": "rgba(0,0,0,0)"}, {"offset": 0.6524, "color": "#000"}, {"offset": 0.6650, "color": "#000"}, {"offset": 0.6650, "color": "rgba(0,0,0,0)"},
                {"offset": 0.6978, "color": "rgba(0,0,0,0)"}, {"offset": 0.6978, "color": "#000"}, {"offset": 0.7104, "color": "#000"}, {"offset": 0.7104, "color": "rgba(0,0,0,0)"},
                {"offset": 0.7433, "color": "rgba(0,0,0,0)"}, {"offset": 0.7433, "color": "#000"}, {"offset": 0.7559, "color": "#000"}, {"offset": 0.7559, "color": "rgba(0,0,0,0)"},
                {"offset": 0.7887, "color": "rgba(0,0,0,0)"}, {"offset": 0.7887, "color": "#000"}, {"offset": 0.8013, "color": "#000"}, {"offset": 0.8013, "color": "rgba(0,0,0,0)"},
                {"offset": 0.8342, "color": "rgba(0,0,0,0)"}, {"offset": 0.8342, "color": "#000"}, {"offset": 0.8468, "color": "#000"}, {"offset": 0.8468, "color": "rgba(0,0,0,0)"},
                {"offset": 0.8796, "color": "rgba(0,0,0,0)"}, {"offset": 0.8796, "color": "#000"}, {"offset": 0.8922, "color": "#000"}, {"offset": 0.8922, "color": "rgba(0,0,0,0)"},
                {"offset": 0.9251, "color": "rgba(0,0,0,0)"}, {"offset": 0.9251, "color": "#000"}, {"offset": 0.9377, "color": "#000"}, {"offset": 0.9377, "color": "rgba(0,0,0,0)"},
                {"offset": 0.9705, "color": "rgba(0,0,0,0)"}, {"offset": 0.9705, "color": "#000"}, {"offset": 0.9831, "color": "#000"}, {"offset": 0.9831, "color": "rgba(0,0,0,0)"}
              ]}},
              "encoding": {"y": {"field": "valor", "type": "quantitative", "title": "Area da Curva"}}
            },
            {
              "mark": {"type": "bar", "fillOpacity": 0, "fill": "white", "stroke": "black", "strokeWidth": 1.5},
              "encoding": {"y": {"field": "valor", "type": "quantitative", "title": "Area da Curva"}}
            },
            {
              "mark": {"type": "rule", "color": "black", "strokeWidth": 2},
              "encoding": {
                "y": {"field": "valor", "type": "quantitative", "title": "Area da Curva"},
                "y2": {"field": "sup"}
              }
            },
            {
              "mark": {"type": "tick", "color": "black", "thickness": 2, "size": 28},
              "encoding": {"y": {"field": "sup", "type": "quantitative", "title": "Area da Curva"}}
            }
          ]
        },
        {
          "width": 497,
          "height": 365,
          "data": {"name": "isi"},
          "encoding": {
            "x": {"field": "semana", "type": "nominal", "sort": ["Semana 0", "Semana 12"],
              "scale": {"type": "band", "paddingInner": 0.537, "paddingOuter": 0.527, "align": 0.4615},
              "axis": {"title": null, "labelAngle": 0, "ticks": false, "labelPadding": 34, "offset": -5}}
          },
          "layer": [
            {
              "mark": {"type": "bar", "fill": "#111111"},
              "encoding": {
                "y": {"field": "valor", "type": "quantitative", "scale": {"domain": [0, 10], "nice": false},
                  "axis": {"title": "I.S.I (mg⁻¹ .mU⁻¹)", "values": [0, 2, 4, 6, 8, 10], "labelPadding": 2, "titlePadding": 6, "titleFontSize": 20, "titleY": 137}},
                "y2": {"datum": 0.25}
              }
            },
            {
              "mark": {"type": "bar", "fill": {"gradient": "linear", "x1": 0, "y1": 0, "x2": 1, "y2": 0, "stops": [
                {"offset": 0.06, "color": "rgba(0,0,0,0)"}, {"offset": 0.06, "color": "#b5b5b5"}, {"offset": 0.074, "color": "#b5b5b5"}, {"offset": 0.074, "color": "rgba(0,0,0,0)"},
                {"offset": 0.18, "color": "rgba(0,0,0,0)"}, {"offset": 0.18, "color": "#b5b5b5"}, {"offset": 0.194, "color": "#b5b5b5"}, {"offset": 0.194, "color": "rgba(0,0,0,0)"},
                {"offset": 0.30, "color": "rgba(0,0,0,0)"}, {"offset": 0.30, "color": "#b5b5b5"}, {"offset": 0.314, "color": "#b5b5b5"}, {"offset": 0.314, "color": "rgba(0,0,0,0)"},
                {"offset": 0.42, "color": "rgba(0,0,0,0)"}, {"offset": 0.42, "color": "#b5b5b5"}, {"offset": 0.434, "color": "#b5b5b5"}, {"offset": 0.434, "color": "rgba(0,0,0,0)"},
                {"offset": 0.54, "color": "rgba(0,0,0,0)"}, {"offset": 0.54, "color": "#b5b5b5"}, {"offset": 0.554, "color": "#b5b5b5"}, {"offset": 0.554, "color": "rgba(0,0,0,0)"},
                {"offset": 0.66, "color": "rgba(0,0,0,0)"}, {"offset": 0.66, "color": "#b5b5b5"}, {"offset": 0.674, "color": "#b5b5b5"}, {"offset": 0.674, "color": "rgba(0,0,0,0)"},
                {"offset": 0.78, "color": "rgba(0,0,0,0)"}, {"offset": 0.78, "color": "#b5b5b5"}, {"offset": 0.794, "color": "#b5b5b5"}, {"offset": 0.794, "color": "rgba(0,0,0,0)"},
                {"offset": 0.90, "color": "rgba(0,0,0,0)"}, {"offset": 0.90, "color": "#b5b5b5"}, {"offset": 0.914, "color": "#b5b5b5"}, {"offset": 0.914, "color": "rgba(0,0,0,0)"}
              ]}},
              "encoding": {"y": {"field": "valor", "type": "quantitative", "title": "I.S.I (mg⁻¹ .mU⁻¹)"}, "y2": {"datum": 0.25}}
            },
            {
              "mark": {"type": "bar", "fill": {"gradient": "linear", "x1": 0, "y1": 0, "x2": 0, "y2": 1, "stops": [
                {"offset": 0.030, "color": "rgba(0,0,0,0)"}, {"offset": 0.030, "color": "#b5b5b5"}, {"offset": 0.036, "color": "#b5b5b5"}, {"offset": 0.036, "color": "rgba(0,0,0,0)"},
                {"offset": 0.084, "color": "rgba(0,0,0,0)"}, {"offset": 0.084, "color": "#b5b5b5"}, {"offset": 0.090, "color": "#b5b5b5"}, {"offset": 0.090, "color": "rgba(0,0,0,0)"},
                {"offset": 0.138, "color": "rgba(0,0,0,0)"}, {"offset": 0.138, "color": "#b5b5b5"}, {"offset": 0.144, "color": "#b5b5b5"}, {"offset": 0.144, "color": "rgba(0,0,0,0)"},
                {"offset": 0.192, "color": "rgba(0,0,0,0)"}, {"offset": 0.192, "color": "#b5b5b5"}, {"offset": 0.198, "color": "#b5b5b5"}, {"offset": 0.198, "color": "rgba(0,0,0,0)"},
                {"offset": 0.246, "color": "rgba(0,0,0,0)"}, {"offset": 0.246, "color": "#b5b5b5"}, {"offset": 0.252, "color": "#b5b5b5"}, {"offset": 0.252, "color": "rgba(0,0,0,0)"},
                {"offset": 0.300, "color": "rgba(0,0,0,0)"}, {"offset": 0.300, "color": "#b5b5b5"}, {"offset": 0.306, "color": "#b5b5b5"}, {"offset": 0.306, "color": "rgba(0,0,0,0)"},
                {"offset": 0.354, "color": "rgba(0,0,0,0)"}, {"offset": 0.354, "color": "#b5b5b5"}, {"offset": 0.360, "color": "#b5b5b5"}, {"offset": 0.360, "color": "rgba(0,0,0,0)"},
                {"offset": 0.408, "color": "rgba(0,0,0,0)"}, {"offset": 0.408, "color": "#b5b5b5"}, {"offset": 0.414, "color": "#b5b5b5"}, {"offset": 0.414, "color": "rgba(0,0,0,0)"},
                {"offset": 0.462, "color": "rgba(0,0,0,0)"}, {"offset": 0.462, "color": "#b5b5b5"}, {"offset": 0.468, "color": "#b5b5b5"}, {"offset": 0.468, "color": "rgba(0,0,0,0)"},
                {"offset": 0.516, "color": "rgba(0,0,0,0)"}, {"offset": 0.516, "color": "#b5b5b5"}, {"offset": 0.522, "color": "#b5b5b5"}, {"offset": 0.522, "color": "rgba(0,0,0,0)"},
                {"offset": 0.570, "color": "rgba(0,0,0,0)"}, {"offset": 0.570, "color": "#b5b5b5"}, {"offset": 0.576, "color": "#b5b5b5"}, {"offset": 0.576, "color": "rgba(0,0,0,0)"},
                {"offset": 0.624, "color": "rgba(0,0,0,0)"}, {"offset": 0.624, "color": "#b5b5b5"}, {"offset": 0.630, "color": "#b5b5b5"}, {"offset": 0.630, "color": "rgba(0,0,0,0)"},
                {"offset": 0.678, "color": "rgba(0,0,0,0)"}, {"offset": 0.678, "color": "#b5b5b5"}, {"offset": 0.684, "color": "#b5b5b5"}, {"offset": 0.684, "color": "rgba(0,0,0,0)"},
                {"offset": 0.732, "color": "rgba(0,0,0,0)"}, {"offset": 0.732, "color": "#b5b5b5"}, {"offset": 0.738, "color": "#b5b5b5"}, {"offset": 0.738, "color": "rgba(0,0,0,0)"},
                {"offset": 0.786, "color": "rgba(0,0,0,0)"}, {"offset": 0.786, "color": "#b5b5b5"}, {"offset": 0.792, "color": "#b5b5b5"}, {"offset": 0.792, "color": "rgba(0,0,0,0)"},
                {"offset": 0.840, "color": "rgba(0,0,0,0)"}, {"offset": 0.840, "color": "#b5b5b5"}, {"offset": 0.846, "color": "#b5b5b5"}, {"offset": 0.846, "color": "rgba(0,0,0,0)"},
                {"offset": 0.894, "color": "rgba(0,0,0,0)"}, {"offset": 0.894, "color": "#b5b5b5"}, {"offset": 0.900, "color": "#b5b5b5"}, {"offset": 0.900, "color": "rgba(0,0,0,0)"},
                {"offset": 0.948, "color": "rgba(0,0,0,0)"}, {"offset": 0.948, "color": "#b5b5b5"}, {"offset": 0.954, "color": "#b5b5b5"}, {"offset": 0.954, "color": "rgba(0,0,0,0)"}
              ]}},
              "encoding": {"y": {"field": "valor", "type": "quantitative", "title": "I.S.I (mg⁻¹ .mU⁻¹)"}, "y2": {"datum": 0.25}}
            },
            {
              "mark": {"type": "bar", "fillOpacity": 0, "fill": "white", "stroke": "black", "strokeWidth": 1.5},
              "encoding": {"y": {"field": "valor", "type": "quantitative", "title": "I.S.I (mg⁻¹ .mU⁻¹)"}, "y2": {"datum": 0.25}}
            },
            {
              "mark": {"type": "rule", "color": "black", "strokeWidth": 2},
              "encoding": {
                "y": {"field": "valor", "type": "quantitative", "title": "I.S.I (mg⁻¹ .mU⁻¹)"},
                "y2": {"field": "sup"}
              }
            },
            {
              "mark": {"type": "tick", "color": "black", "thickness": 2, "size": 34},
              "encoding": {"y": {"field": "sup", "type": "quantitative", "title": "I.S.I (mg⁻¹ .mU⁻¹)"}}
            }
          ]
        }
      ]
    }
  ]
}
